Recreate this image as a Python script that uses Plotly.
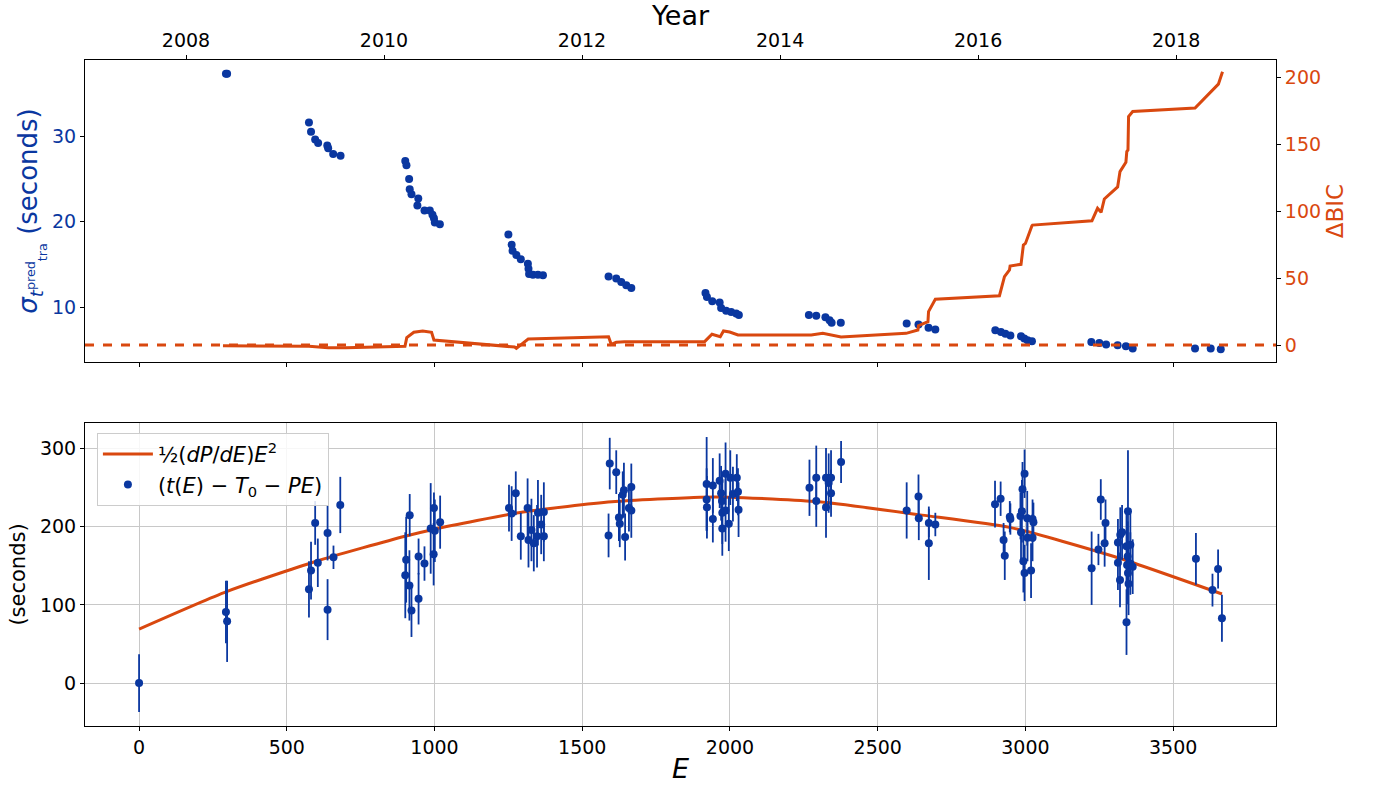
import plotly.graph_objects as go

# ---------------- data ----------------
# top panel: predicted transit-time uncertainty vs epoch
sig_E = [294, 298, 575, 582, 596, 606, 637, 640, 657, 682,
         901, 905, 914, 916, 922, 942, 945, 966, 984, 993, 998, 1001, 1018,
         1250, 1261, 1264, 1277, 1292, 1316, 1318, 1320, 1333, 1350, 1367,
         1589, 1615, 1632, 1649, 1666,
         1917, 1922, 1940, 1965, 1970, 1987, 2004, 2021, 2030,
         2267, 2292, 2323, 2337, 2344, 2375,
         2598, 2638, 2672, 2695,
         2898, 2917, 2932, 2949, 2985, 2996, 3007, 3022,
         3223, 3250, 3273, 3312, 3340, 3363,
         3574, 3627, 3661]
sig_v = [37.3, 37.3, 31.6, 30.5, 29.6, 29.2, 28.9, 28.6, 27.9, 27.7,
         27.1, 26.6, 25.0, 23.8, 23.2, 21.9, 22.7, 21.3, 21.3, 20.8, 20.4, 19.9, 19.7,
         18.5, 17.3, 16.6, 16.1, 15.6, 15.1, 14.5, 13.9, 13.8, 13.8, 13.75,
         13.6, 13.35, 12.96, 12.57, 12.26,
         11.67, 11.2, 10.7, 10.55, 9.92, 9.6, 9.45, 9.26, 9.1,
         9.1, 9.0, 8.83, 8.48, 8.2, 8.2,
         8.1, 8.0, 7.6, 7.4,
         7.3, 7.1, 6.9, 6.7, 6.6, 6.34, 6.14, 6.02,
         5.94, 5.83, 5.64, 5.56, 5.44, 5.17,
         5.17, 5.17, 5.1]

# top panel: Delta BIC vs epoch
bic_E = [284, 575, 640, 700, 900, 906, 930, 960, 990, 998,
         1271, 1277, 1317, 1589, 1598, 1615, 1643, 1914, 1939, 1967,
         1978, 1999, 2027, 2275, 2314, 2347, 2376, 2596, 2636, 2638,
         2670, 2672, 2695, 2912, 2929, 2946, 2948, 2985, 2988, 2993,
         3000, 3011, 3022, 3024, 3225, 3244, 3256, 3267, 3312, 3320,
         3340, 3343, 3347, 3349, 3363, 3574, 3653, 3667]
bic_v = [-0.5, -1, -2, -2, -1, 5.5, 9.5, 10.5, 9.5, 3.7,
         -1.5, -2.5, 4.5, 6.2, 0.5, 2, 2.5, 2.5, 8, 6.2,
         10.5, 9.7, 7.5, 7.5, 8.7, 7.5, 6, 8.7, 11.2, 14.4,
         17.4, 24.9, 34.1, 36.8, 51, 56, 59, 60.2, 67, 74.6,
         75.8, 83.3, 89, 89.5, 92.7, 102, 99, 109, 118, 129.4,
         136.4, 144.4, 145.6, 170.5, 174.3, 176.8, 194.7, 204]

# bottom panel: timing residuals (seconds) with uncertainties
res_E = [0, 294, 298, 575, 582, 596, 605, 638, 638, 658, 681,
         901, 904, 915, 916, 922, 946, 946, 966, 987, 997, 998, 1001, 1019,
         1252, 1261, 1275, 1292, 1315, 1318, 1328, 1336, 1347, 1350, 1361, 1370, 1370,
         1589, 1593, 1615, 1624, 1627, 1637, 1641, 1645, 1658, 1666, 1666,
         1921, 1921, 1922, 1942, 1942, 1965, 1970, 1973, 1974, 1974, 1985, 1985,
         1996, 2001, 2010, 2023, 2027, 2029,
         2269, 2292, 2292, 2325, 2325, 2334, 2342, 2342, 2376,
         2598, 2638, 2639, 2673, 2673, 2695,
         2897, 2916, 2926, 2930, 2947, 2949, 2983, 2985, 2988, 2990, 2993, 2997, 2997,
         3006, 3007, 3019, 3024, 3024, 3027,
         3224, 3247, 3255, 3268, 3271, 3313, 3313, 3320, 3321, 3327,
         3342, 3342, 3344, 3346, 3347, 3347, 3349, 3355, 3355, 3363,
         3577, 3633, 3652, 3665]
res_v = [0, 91, 79, 120, 144, 205, 154, 192, 94, 161, 228,
         138, 158, 125, 215, 93, 162, 108, 153, 198, 165, 224, 195, 206,
         224, 217, 243, 188, 224, 183, 196, 179, 188, 218, 203, 188, 219,
         189, 281, 270, 212, 204, 241, 247, 187, 224, 251, 221,
         255, 235, 225, 253, 210, 259, 243, 233, 218, 198, 268, 221,
         204, 263, 242, 263, 245, 222,
         250, 263, 233, 263, 225, 256, 263, 243, 283,
         221, 239, 211, 205, 179, 203,
         229, 236, 183, 163, 213, 210, 214, 193, 220, 248, 156, 268, 141,
         211, 186, 144, 210, 186, 206,
         147, 171, 235, 179, 205, 180, 154, 132, 190, 193,
         78, 175, 151, 162, 220, 141, 127, 177, 153, 149,
         159, 119, 146, 83]
res_err = [37, 40, 52, 36, 37, 28, 31, 35, 39, 15, 36,
           55, 55, 45, 27, 34, 23, 33, 22, 58, 40, 20, 40, 34,
           30, 35, 28, 30, 38, 35, 40, 36, 40, 42, 38, 32, 38,
           28, 33, 28, 30, 30, 30, 35, 30, 30, 30, 35,
           60, 40, 40, 35, 30, 35, 35, 35, 40, 35, 40, 40,
           35, 35, 35, 30, 30, 35,
           36, 41, 33, 38, 39, 38, 35, 30, 27,
           36, 28, 28, 18, 47, 15,
           30, 22, 22, 31, 20, 20, 30, 35, 40, 35, 40, 31, 36,
           35, 30, 35, 25, 30, 25,
           47, 20, 26, 30, 30, 30, 35, 35, 35, 35,
           42, 45, 45, 45, 78, 40, 40, 40, 40, 35,
           33, 21, 25, 30]

# quadratic model curve
fit_E = [0, 296, 600, 900, 1000, 1300, 1600, 1900, 2000, 2300, 2650, 2950, 3300, 3665]
fit_v = [69, 117, 156, 188, 197, 219, 232, 238, 238, 232, 215, 199, 162, 114]

# top-axis year ticks
year_ticks = [2008, 2010, 2012, 2014, 2016, 2018]

# ---------------- style / layout constants ----------------
BLUE = '#0a37a0'
ORANGE = '#d9480f'
FONT = 'DejaVu Sans'
TICK = 19
E_RANGE = [-183, 3848]
EPOCHS_PER_YEAR = 335.1
YEAR_AT_E0 = 2007.526
YEAR_RANGE = [YEAR_AT_E0 + E_RANGE[0] / EPOCHS_PER_YEAR,
              YEAR_AT_E0 + E_RANGE[1] / EPOCHS_PER_YEAR]

fig = go.Figure()

fig.add_trace(go.Scatter(x=sig_E, y=sig_v, mode='markers', xaxis='x', yaxis='y',
                         marker=dict(color=BLUE, size=8), showlegend=False))
fig.add_trace(go.Scatter(x=bic_E, y=bic_v, mode='lines', xaxis='x', yaxis='y2',
                         line=dict(color=ORANGE, width=3), showlegend=False))
# invisible carrier so that the Year axis is drawn
fig.add_trace(go.Scatter(x=year_ticks, y=[None] * len(year_ticks), mode='markers',
                         xaxis='x3', yaxis='y', showlegend=False, hoverinfo='skip',
                         marker=dict(opacity=0)))

fig.add_trace(go.Scatter(x=fit_E, y=fit_v, mode='lines', xaxis='x2', yaxis='y3',
                         line=dict(color=ORANGE, width=3, shape='spline', smoothing=0.6),
                         name='½(<i>dP</i>/<i>dE</i>)<i>E</i><sup>2</sup>'))
fig.add_trace(go.Scatter(x=res_E, y=res_v, mode='markers', xaxis='x2', yaxis='y3',
                         marker=dict(color=BLUE, size=8),
                         error_y=dict(type='data', array=res_err, color=BLUE,
                                      thickness=1.8, width=0),
                         name='(<i>t</i>(<i>E</i>) − <i>T</i><sub>0</sub> − <i>PE</i>)'))

fig.add_shape(type='line', xref='x domain', yref='y2', x0=0, x1=1, y0=0, y1=0,
              line=dict(color=ORANGE, width=3, dash='dash'))

tick_e = [0, 500, 1000, 1500, 2000, 2500, 3000, 3500]
axis_common = dict(showline=True, linecolor='black', linewidth=1, ticks='outside',
                   ticklen=4, tickcolor='black', zeroline=False, automargin=False)

fig.update_layout(
    width=1377, height=789,
    margin=dict(l=85, r=101, t=60, b=63),
    paper_bgcolor='white', plot_bgcolor='white',
    font=dict(family=FONT, size=TICK, color='black'),
    xaxis=dict(domain=[0, 1], anchor='y', range=E_RANGE, tickvals=tick_e,
               showticklabels=False, showgrid=False, mirror=False, **axis_common),
    xaxis3=dict(overlaying='x', side='top', anchor='y', range=YEAR_RANGE,
                tickvals=year_ticks, showgrid=False,
                title=dict(text='Year', font=dict(size=27), standoff=0),
                tickfont=dict(size=TICK), **axis_common),
    yaxis=dict(domain=[0.5465, 1], anchor='x', range=[3.6, 38.9],
               tickvals=[10, 20, 30], showgrid=False,
               tickfont=dict(color=BLUE, size=TICK),
               title=dict(text='<i>σ</i><sub><i>t</i><sup>pred</sup><sub>tra</sub></sub> (seconds)',
                          font=dict(color=BLUE, size=26), standoff=6),
               **axis_common),
    yaxis2=dict(overlaying='y', side='right', anchor='x', range=[-12.7, 212.7],
                tickvals=[0, 50, 100, 150, 200], showgrid=False,
                tickfont=dict(color=ORANGE, size=TICK),
                title=dict(text='ΔBIC', font=dict(color=ORANGE, size=23), standoff=6),
                **axis_common),
    xaxis2=dict(domain=[0, 1], anchor='y3', range=E_RANGE, tickvals=tick_e,
                showgrid=True, gridcolor='#c8c8c8', gridwidth=1, mirror=True,
                title=dict(text='<i>E</i>', font=dict(size=27), standoff=2),
                tickfont=dict(size=TICK), **axis_common),
    yaxis3=dict(domain=[0, 0.455], anchor='x2', range=[-55, 333],
                tickvals=[0, 100, 200, 300], showgrid=True, gridcolor='#c8c8c8',
                gridwidth=1, mirror=True,
                title=dict(text='(seconds)', font=dict(size=21), standoff=8),
                tickfont=dict(size=TICK), **axis_common),
    legend=dict(x=0.01, y=0.44, xanchor='left', yanchor='top',
                bgcolor='rgba(255,255,255,0.85)', bordercolor='#cccccc', borderwidth=1,
                font=dict(size=21), itemwidth=50, tracegroupgap=4),
)

fig.write_html('out.html')
